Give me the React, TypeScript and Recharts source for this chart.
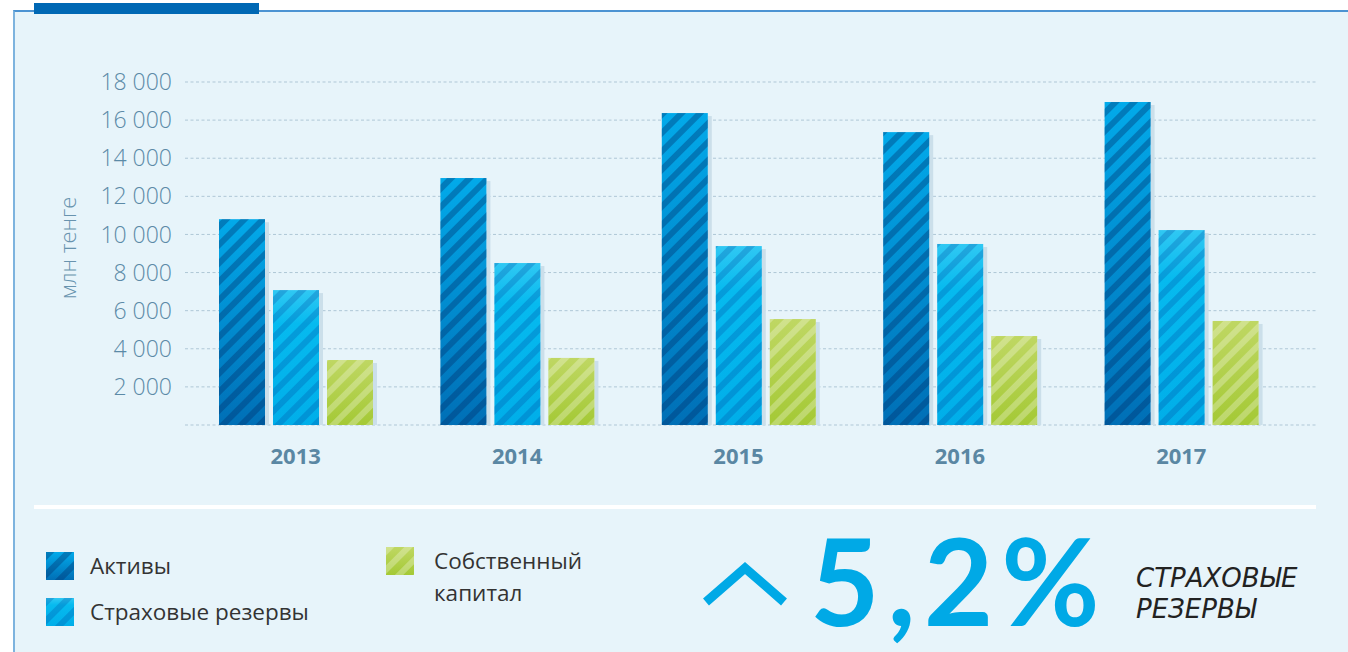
import React from 'react';
import { BarChart, Bar, XAxis, YAxis, CartesianGrid } from 'recharts';

const years = ['2013', '2014', '2015', '2016', '2017'];
const assets = [10800, 12960, 16370, 15370, 16950];
const reserves = [7080, 8500, 9390, 9500, 10230];
const equity = [3410, 3520, 5560, 4670, 5460];
const yTicks = [0, 2000, 4000, 6000, 8000, 10000, 12000, 14000, 16000, 18000];
const seriesNames = ['Активы', 'Страховые резервы', 'Собственный капитал'];

const data = years.map((y, i) => ({ year: y, assets: assets[i], reserves: reserves[i], equity: equity[i] }));

const fmt = (v: number) => (v === 0 ? '' : v.toLocaleString('en-US').replace(/,/g, ' '));

const makeShape = (grad: string, pat: string) => (props: any) => {
  const { x, y, width, height } = props;
  if (!height || height <= 0) return <g />;
  return (
    <g>
      <rect x={x + width} y={y + 3} width={4} height={height - 3} fill="#CBDFEA" />
      <rect x={x} y={y} width={width} height={height} fill={`url(#${grad})`} />
      <rect x={x} y={y} width={width} height={height} fill={`url(#${pat})`} />
    </g>
  );
};

const Defs = ({ p }: { p: string }) => (
  <defs>
    <linearGradient id={`${p}gA`} x1="0" y1="0" x2="0" y2="1">
      <stop offset="0%" stopColor="#02AAEA" />
      <stop offset="100%" stopColor="#006FB6" />
    </linearGradient>
    <linearGradient id={`${p}gR`} x1="0" y1="0" x2="0" y2="1">
      <stop offset="0%" stopColor="#30C8F3" />
      <stop offset="25%" stopColor="#06BAEF" />
      <stop offset="100%" stopColor="#00AEE9" />
    </linearGradient>
    <linearGradient id={`${p}gE`} x1="0" y1="0" x2="0" y2="1">
      <stop offset="0%" stopColor="#BFD763" />
      <stop offset="100%" stopColor="#A4C935" />
    </linearGradient>
    <pattern id={`${p}pA`} patternUnits="userSpaceOnUse" width="13" height="13" patternTransform="rotate(45)">
      <rect x="0" y="0" width="6" height="13" fill="rgba(0,45,105,0.36)" />
    </pattern>
    <pattern id={`${p}pR`} patternUnits="userSpaceOnUse" width="13" height="13" patternTransform="rotate(45)">
      <rect x="0" y="0" width="6" height="13" fill="rgba(0,70,160,0.26)" />
    </pattern>
    <pattern id={`${p}pE`} patternUnits="userSpaceOnUse" width="13" height="13" patternTransform="rotate(45)">
      <rect x="0" y="0" width="6" height="13" fill="rgba(255,255,255,0.27)" />
    </pattern>
  </defs>
);

const Swatch = ({ g, p, id }: { g: string; p: string; id: string }) => (
  <svg width={28} height={28} style={{ display: 'block' }}>
    <Defs p={id} />
    <rect x={0} y={0} width={28} height={28} fill={`url(#${id}${g})`} />
    <rect x={0} y={0} width={28} height={28} fill={`url(#${id}${p})`} />
  </svg>
);

const tickFont = "'Open Sans', 'DejaVu Sans', sans-serif";
const legendText: React.CSSProperties = { position: 'absolute', fontSize: 22.5, color: '#333', lineHeight: '30px', whiteSpace: 'nowrap' };
const noteText: React.CSSProperties = { position: 'absolute', left: 1136, fontSize: 26, fontStyle: 'italic', color: '#222', lineHeight: '31px', whiteSpace: 'nowrap', fontFamily: "'DejaVu Sans', sans-serif" };

export default function App() {
  return (
    <div style={{ position: 'absolute', left: 0, top: 0, width: 1348, height: 652, background: '#fff', overflow: 'hidden', fontFamily: tickFont }}>
      {/* panel */}
      <div style={{ position: 'absolute', left: 13, top: 10, width: 1335, height: 642, background: '#E7F4FA', borderLeft: '2px solid #7DB3DE', borderTop: '2px solid #4C93D2' }} />
      <div style={{ position: 'absolute', left: 34, top: 3, width: 225, height: 11, background: '#0068B4' }} />
      <div style={{ position: 'absolute', left: 34, top: 505, width: 1282, height: 4, background: '#FFFFFF' }} />

      <div style={{ position: 'absolute', left: 0, top: 0 }}>
        <BarChart width={1348} height={652} data={data} margin={{ top: 82, right: 32, bottom: 187, left: 63 }} barSize={46} barGap={8}>
          <Defs p="c" />
          <CartesianGrid vertical={false} stroke="#AFC7D6" strokeDasharray="3 2.5" />
          <XAxis dataKey="year" axisLine={false} tickLine={false} height={40} padding={{ left: 0, right: 24 }}
            tick={{ fill: '#5A87A3', fontSize: 22, fontWeight: 700, fontFamily: tickFont }} tickMargin={17} />
          <YAxis domain={[0, 18000]} ticks={yTicks} interval={0} axisLine={false} tickLine={false} width={122}
            tickFormatter={fmt} tickMargin={7}
            tick={{ fill: '#5B8AA7', fontSize: 23, fontWeight: 300, fontFamily: tickFont }}
            label={{ content: () => (
              <text x={67} y={248} transform="rotate(-90 67 248)" textAnchor="middle" dominantBaseline="central"
                fill="#6893AE" fontSize={22} fontFamily={tickFont} fontWeight={300}>млн тенге</text>
            ) }} />
          <Bar dataKey="assets" name={seriesNames[0]} isAnimationActive={false} shape={makeShape('cgA', 'cpA')} />
          <Bar dataKey="reserves" name={seriesNames[1]} isAnimationActive={false} shape={makeShape('cgR', 'cpR')} />
          <Bar dataKey="equity" name={seriesNames[2]} isAnimationActive={false} shape={makeShape('cgE', 'cpE')} />
        </BarChart>
      </div>

      {/* legend */}
      <div style={{ position: 'absolute', left: 46, top: 552 }}><Swatch g="gA" p="pA" id="l1" /></div>
      <div style={{ ...legendText, left: 90, top: 551 }}>{seriesNames[0]}</div>
      <div style={{ position: 'absolute', left: 46, top: 598 }}><Swatch g="gR" p="pR" id="l2" /></div>
      <div style={{ ...legendText, left: 90, top: 597 }}>{seriesNames[1]}</div>
      <div style={{ position: 'absolute', left: 386, top: 547 }}><Swatch g="gE" p="pE" id="l3" /></div>
      <div style={{ ...legendText, left: 434, top: 546 }}>Собственный</div>
      <div style={{ ...legendText, left: 434, top: 578 }}>капитал</div>

      {/* highlight */}
      <svg style={{ position: 'absolute', left: 700, top: 560 }} width={90} height={50}>
        <polyline points="6,42 45,8 84,42" fill="none" stroke="#00A9E6" strokeWidth={9} />
      </svg>
      <div style={{ position: 'absolute', left: 810, top: 508, fontSize: 120, fontWeight: 700, color: '#00A9E6', lineHeight: '144px', fontFamily: "Lato, 'Open Sans', sans-serif", letterSpacing: 8, whiteSpace: 'nowrap' }}>5,2%</div>
      <div style={{ ...noteText, top: 563 }}>СТРАХОВЫЕ</div>
      <div style={{ ...noteText, top: 594 }}>РЕЗЕРВЫ</div>
    </div>
  );
}
